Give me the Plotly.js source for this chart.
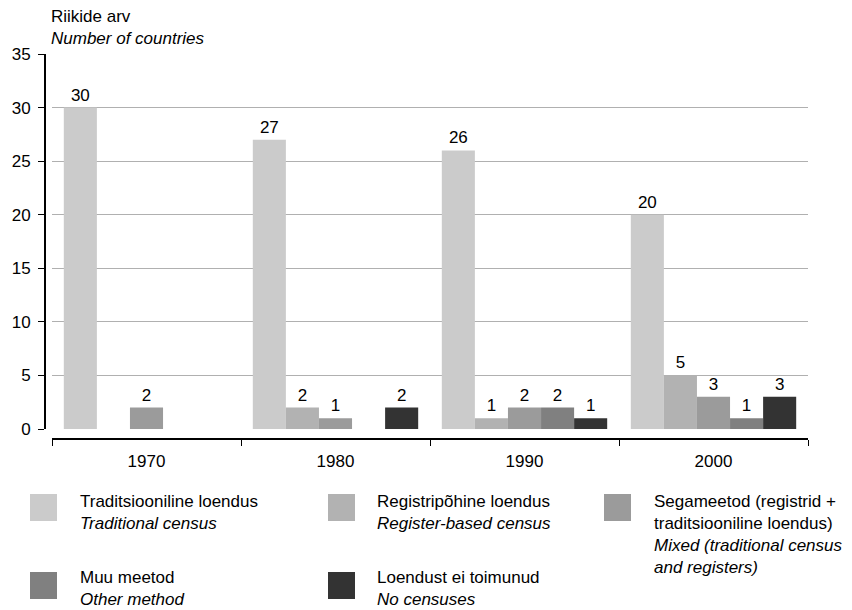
<!DOCTYPE html>
<html>
<head>
<meta charset="utf-8">
<script src="https://cdn.plot.ly/plotly-3.0.1.min.js"></script>
<style>
  html, body { margin: 0; padding: 0; background: #fff; }
  #chart { width: 852px; height: 610px; }
</style>
</head>
<body>
<div id="chart"></div>
<script>
// ---- Data ----
const years = ['1970', '1980', '1990', '2000'];
const namesEt = ['Traditsiooniline loendus', 'Registripõhine loendus', 'Segameetod (registrid +<br>traditsiooniline loendus)', 'Muu meetod', 'Loendust ei toimunud'];
const namesEn = ['Traditional census', 'Register-based census', 'Mixed (traditional census<br>and registers)', 'Other method', 'No censuses'];
const traditional   = [30, 27, 26, 20];
const registerBased = [0, 2, 1, 5];
const mixed         = [2, 1, 2, 3];
const otherMethod   = [0, 0, 2, 1];
const noCensus      = [0, 2, 1, 3];
const yTitleEt = 'Riikide arv';
const yTitleEn = 'Number of countries';

// ---- Styles ----
const seriesValues = [traditional, registerBased, mixed, otherMethod, noCensus];
const colors = ['#cbcbcb', '#b2b2b2', '#9b9b9b', '#808080', '#333333'];
const FONT = '"Liberation Sans", Arial, Helvetica, sans-serif';
const FS = 17;

const W = 852, Hh = 610;
const M = { l: 45, r: 44, t: 54, b: 171 };
const PW = W - M.l - M.r, PH = Hh - M.t - M.b;
const px = v => (v - M.l) / PW;
const py = v => (Hh - M.b - v) / PH;

const traces = seriesValues.map((vals, i) => ({
  type: 'bar',
  x: years,
  y: vals,
  name: namesEn[i],
  marker: { color: colors[i], line: { width: 0 } },
  text: vals.map(v => v > 0 ? String(v) : ''),
  textposition: 'outside',
  textfont: { family: FONT, size: FS, color: '#000' },
  cliponaxis: false,
  hoverinfo: 'x+y+name'
}));

// legend layout (manual, large swatches)
const legendPos = [
  { sx: 30, sy: 494, tx: 78 },
  { sx: 328, sy: 494, tx: 375 },
  { sx: 604, sy: 494, tx: 652 },
  { sx: 30, sy: 572, tx: 78 },
  { sx: 328, sy: 572, tx: 375 }
];
const SW = 27;
const shapes = [];
const annotations = [];
legendPos.forEach((p, i) => {
  shapes.push({
    type: 'rect', xref: 'paper', yref: 'paper',
    x0: px(p.sx), x1: px(p.sx + SW), y0: py(p.sy + SW), y1: py(p.sy),
    fillcolor: colors[i], line: { width: 0 }
  });
  annotations.push({
    xref: 'paper', yref: 'paper', x: px(p.tx), y: py(p.sy - (i < 3 ? 4 : 6)),
    xanchor: 'left', yanchor: 'top', align: 'left', showarrow: false,
    text: namesEt[i] + '<br><i>' + namesEn[i] + '</i>',
    font: { family: FONT, size: FS, color: '#000' }
  });
});
annotations.push({
  xref: 'paper', yref: 'paper', x: px(49), y: py(5),
  xanchor: 'left', yanchor: 'top', align: 'left', showarrow: false,
  text: yTitleEt + '<br><i>' + yTitleEn + '</i>',
  font: { family: FONT, size: FS, color: '#000' }
});

const yDomStart = (439 - 429) / PH;

const layout = {
  width: W, height: Hh,
  margin: M,
  paper_bgcolor: '#fff', plot_bgcolor: '#fff',
  font: { family: FONT, size: FS, color: '#000' },
  showlegend: false,
  barmode: 'group',
  bargap: 0.125,
  bargroupgap: 0,
  xaxis: {
    type: 'category',
    domain: [px(52), 1],
    anchor: 'free', position: 0,
    showline: true, linewidth: 2, linecolor: '#000',
    ticks: 'outside', tickson: 'boundaries', ticklen: 6, tickwidth: 1, tickcolor: '#000',
    showgrid: false, zeroline: false,
    tickfont: { family: FONT, size: FS, color: '#000' },
    ticklabelstandoff: 7
  },
  yaxis: {
    domain: [yDomStart, 1],
    anchor: 'free', position: 0,
    range: [0, 35], dtick: 5, tick0: 0,
    showline: true, linewidth: 2, linecolor: '#000',
    ticks: 'outside', ticklen: 6, tickwidth: 1, tickcolor: '#000',
    showgrid: true, gridcolor: '#b0b0b0', gridwidth: 1,
    zeroline: false,
    tickfont: { family: FONT, size: FS, color: '#000' },
    ticklabelstandoff: 4
  },
  shapes: shapes,
  annotations: annotations
};

Plotly.newPlot('chart', traces, layout, { displayModeBar: false, staticPlot: true });
</script>
</body>
</html>
